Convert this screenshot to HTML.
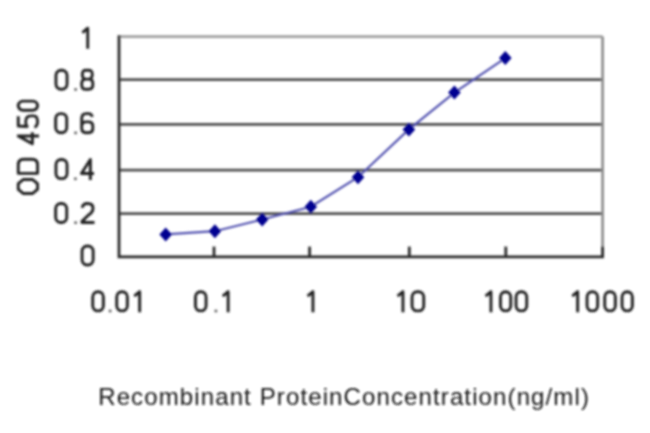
<!DOCTYPE html>
<html><head><meta charset="utf-8">
<style>
html,body{margin:0;padding:0;background:#fff;width:650px;height:433px;overflow:hidden}
svg{display:block}
text{font-family:"Liberation Sans",sans-serif}
</style></head>
<body>
<svg width="650" height="433" viewBox="0 0 650 433">
<defs><filter id="bl" x="0" y="0" width="650" height="433" filterUnits="userSpaceOnUse"><feGaussianBlur stdDeviation="0.9"/></filter></defs>
<rect x="0" y="0" width="650" height="433" fill="#fff"/>
<g filter="url(#bl)">
<g stroke="#505050" stroke-width="2.7" fill="none">
<line x1="119" y1="79.6" x2="602.6" y2="79.6"/>
<line x1="119" y1="124.4" x2="602.6" y2="124.4"/>
<line x1="119" y1="170.1" x2="602.6" y2="170.1"/>
<line x1="119" y1="213.6" x2="602.6" y2="213.6"/>
</g>
<line x1="119" y1="36.6" x2="602.6" y2="36.6" stroke="#a0a0a0" stroke-width="2.7"/>
<line x1="602.6" y1="36.6" x2="602.6" y2="256.8" stroke="#8c8c8c" stroke-width="2.7"/>
<g stroke="#2c2c2c" stroke-width="2.8" fill="none">
<path d="M119,35.2 L119,256.8 L604,256.8"/>
<line x1="214" y1="246.6" x2="214" y2="256.8"/>
<line x1="309.6" y1="246.6" x2="309.6" y2="256.8"/>
<line x1="409.3" y1="246.6" x2="409.3" y2="256.8"/>
<line x1="505.8" y1="246.6" x2="505.8" y2="256.8"/>
<line x1="602.6" y1="246.6" x2="602.6" y2="256.8"/>
</g>
<polyline points="165.7,234.4 214.9,231.2 262.2,219.5 310.8,206.7 358,177.2 408.9,129.4 454.4,92.6 505.3,58.1" fill="none" stroke="#5252b0" stroke-width="2.2"/>
<g fill="#000090">
<path d="M165.7,227.4 L172,234.4 L165.7,241.4 L159.4,234.4Z"/>
<path d="M214.9,224.2 L221.2,231.2 L214.9,238.2 L208.6,231.2Z"/>
<path d="M262.2,212.5 L268.5,219.5 L262.2,226.5 L255.9,219.5Z"/>
<path d="M310.8,199.7 L317.1,206.7 L310.8,213.7 L304.5,206.7Z"/>
<path d="M358,170.2 L364.3,177.2 L358,184.2 L351.7,177.2Z"/>
<path d="M408.9,122.4 L415.2,129.4 L408.9,136.4 L402.6,129.4Z"/>
<path d="M454.4,85.6 L460.7,92.6 L454.4,99.6 L448.1,92.6Z"/>
<path d="M505.3,51.1 L511.6,58.1 L505.3,65.1 L499,58.1Z"/>
</g>
<g fill="none" stroke="#222222" stroke-width="2.9" stroke-linejoin="round">
<path transform="translate(80.9,26.8)" d="M1.45,5.72 L6.85,1.45 V22"/>
<path transform="translate(54.5,68.75)" d="M1.45,6.65 C1.45,3.63 3.63,1.45 6.65,1.45 H7.35 C10.37,1.45 12.55,3.63 12.55,6.65 V15.35 C12.55,18.37 10.37,20.55 7.35,20.55 H6.65 C3.63,20.55 1.45,18.37 1.45,15.35 Z"/>
<rect x="74.3" y="88.15" width="2.6" height="2.6" fill="#606060" stroke="none"/>
<path transform="translate(80.3,68.75)" d="M2.05,5.65 C2.05,2.45 3.05,1.45 5.65,1.45 H8.35 C10.95,1.45 11.95,2.45 11.95,5.65 C11.95,8.84 11.05,10.34 8.35,10.34 H5.65 C2.95,10.34 2.05,8.84 2.05,5.65 Z M5.65,10.34 H8.35 C11.55,10.34 12.55,11.84 12.55,14.54 V16.35 C12.55,19.55 10.95,20.55 8.35,20.55 H5.65 C3.05,20.55 1.45,19.55 1.45,16.35 V14.54 C1.45,11.84 2.45,10.34 5.65,10.34 Z"/>
<path transform="translate(54.2,112.2)" d="M1.45,6.65 C1.45,3.63 3.63,1.45 6.65,1.45 H7.35 C10.37,1.45 12.55,3.63 12.55,6.65 V15.35 C12.55,18.37 10.37,20.55 7.35,20.55 H6.65 C3.63,20.55 1.45,18.37 1.45,15.35 Z"/>
<rect x="74.3" y="131.6" width="2.6" height="2.6" fill="#606060" stroke="none"/>
<path transform="translate(80.3,112.2)" d="M12.05,4.65 C11.35,2.25 10.05,1.45 8.15,1.45 H5.85 C2.85,1.45 1.45,2.65 1.45,6.35 V16.15 C1.45,19.55 3.05,20.55 5.85,20.55 H8.15 C10.95,20.55 12.55,19.55 12.55,16.15 V14.08 C12.55,10.68 10.95,9.68 8.15,9.68 H5.85 C3.05,9.68 1.45,10.68 1.45,14.08"/>
<path transform="translate(54.5,158.1)" d="M1.45,6.65 C1.45,3.63 3.63,1.45 6.65,1.45 H7.35 C10.37,1.45 12.55,3.63 12.55,6.65 V15.35 C12.55,18.37 10.37,20.55 7.35,20.55 H6.65 C3.63,20.55 1.45,18.37 1.45,15.35 Z"/>
<rect x="74.1" y="177.5" width="2.6" height="2.6" fill="#606060" stroke="none"/>
<path transform="translate(80,158.1)" d="M10.35,22 V1.45 L1.45,15.4 H14"/>
<path transform="translate(54.2,202)" d="M1.45,6.65 C1.45,3.63 3.63,1.45 6.65,1.45 H7.35 C10.37,1.45 12.55,3.63 12.55,6.65 V15.35 C12.55,18.37 10.37,20.55 7.35,20.55 H6.65 C3.63,20.55 1.45,18.37 1.45,15.35 Z"/>
<rect x="74.3" y="221.4" width="2.6" height="2.6" fill="#606060" stroke="none"/>
<path transform="translate(80.5,202)" d="M1.75,5.95 C2.05,2.45 3.95,1.45 7,1.45 C10.55,1.45 12.55,2.95 12.55,6.25 C12.55,9.9 10.55,11.44 7.7,13.2 L1.45,19.35 V20.55 H14"/>
<path transform="translate(80.6,244.5)" d="M1.45,6.65 C1.45,3.63 3.63,1.45 6.65,1.45 H7.35 C10.37,1.45 12.55,3.63 12.55,6.65 V15.35 C12.55,18.37 10.37,20.55 7.35,20.55 H6.65 C3.63,20.55 1.45,18.37 1.45,15.35 Z"/>
<path transform="translate(91.3,290.3)" d="M1.45,6.65 C1.45,3.63 3.63,1.45 6.65,1.45 H6.85 C9.87,1.45 12.05,3.63 12.05,6.65 V15.35 C12.05,18.37 9.87,20.55 6.85,20.55 H6.65 C3.63,20.55 1.45,18.37 1.45,15.35 Z"/>
<rect x="108.8" y="309.7" width="2.6" height="2.6" fill="#606060" stroke="none"/>
<path transform="translate(115.3,290.3)" d="M1.45,6.65 C1.45,3.63 3.63,1.45 6.65,1.45 H6.85 C9.87,1.45 12.05,3.63 12.05,6.65 V15.35 C12.05,18.37 9.87,20.55 6.85,20.55 H6.65 C3.63,20.55 1.45,18.37 1.45,15.35 Z"/>
<path transform="translate(132.8,290.3)" d="M1.45,5.72 L6.85,1.45 V22"/>
<path transform="translate(194,290.3)" d="M1.45,6.65 C1.45,3.63 3.63,1.45 6.65,1.45 H6.85 C9.87,1.45 12.05,3.63 12.05,6.65 V15.35 C12.05,18.37 9.87,20.55 6.85,20.55 H6.65 C3.63,20.55 1.45,18.37 1.45,15.35 Z"/>
<rect x="214.6" y="309.7" width="2.6" height="2.6" fill="#606060" stroke="none"/>
<path transform="translate(221.3,290.3)" d="M1.45,5.72 L6.85,1.45 V22"/>
<path transform="translate(306.1,290.3)" d="M1.45,5.72 L6.85,1.45 V22"/>
<path transform="translate(396.1,290.3)" d="M1.45,5.72 L6.85,1.45 V22"/>
<path transform="translate(410.6,290.3)" d="M1.45,6.65 C1.45,3.63 3.63,1.45 6.65,1.45 H7.95 C10.97,1.45 13.15,3.63 13.15,6.65 V15.35 C13.15,18.37 10.97,20.55 7.95,20.55 H6.65 C3.63,20.55 1.45,18.37 1.45,15.35 Z"/>
<path transform="translate(484.1,290.3)" d="M1.45,5.72 L6.85,1.45 V22"/>
<path transform="translate(499,290.3)" d="M1.45,6.65 C1.45,3.63 3.63,1.45 6.65,1.45 H6.55 C9.57,1.45 11.75,3.63 11.75,6.65 V15.35 C11.75,18.37 9.57,20.55 6.55,20.55 H6.65 C3.63,20.55 1.45,18.37 1.45,15.35 Z"/>
<path transform="translate(514.6,290.3)" d="M1.45,6.65 C1.45,3.63 3.63,1.45 6.65,1.45 H6.95 C9.97,1.45 12.15,3.63 12.15,6.65 V15.35 C12.15,18.37 9.97,20.55 6.95,20.55 H6.65 C3.63,20.55 1.45,18.37 1.45,15.35 Z"/>
<path transform="translate(570.8,290.3)" d="M1.45,5.72 L6.85,1.45 V22"/>
<path transform="translate(585.6,290.3)" d="M1.45,6.65 C1.45,3.63 3.63,1.45 6.65,1.45 H6.85 C9.87,1.45 12.05,3.63 12.05,6.65 V15.35 C12.05,18.37 9.87,20.55 6.85,20.55 H6.65 C3.63,20.55 1.45,18.37 1.45,15.35 Z"/>
<path transform="translate(603.3,290.3)" d="M1.45,6.65 C1.45,3.63 3.63,1.45 6.65,1.45 H6.85 C9.87,1.45 12.05,3.63 12.05,6.65 V15.35 C12.05,18.37 9.87,20.55 6.85,20.55 H6.65 C3.63,20.55 1.45,18.37 1.45,15.35 Z"/>
<path transform="translate(620.6,290.3)" d="M1.45,6.65 C1.45,3.63 3.63,1.45 6.65,1.45 H6.55 C9.57,1.45 11.75,3.63 11.75,6.65 V15.35 C11.75,18.37 9.57,20.55 6.55,20.55 H6.65 C3.63,20.55 1.45,18.37 1.45,15.35 Z"/>
<g transform="translate(16.8,195) rotate(-90)">
<path transform="translate(0,0)" d="M1.45,6.65 L5.61,1.45 H11.39 L15.55,6.65 V15.55 L11.39,20.75 H5.61 L1.45,15.55 Z"/>
<path transform="translate(20.2,0)" d="M1.45,1.45 H10.05 C14.05,1.45 15.55,3.95 15.55,6.95 V15.25 C15.55,18.25 14.05,20.75 10.05,20.75 H1.45 Z"/>
<path transform="translate(49.7,0)" d="M9.35,22.2 V1.45 L1.45,15.54 H13"/>
<path transform="translate(66.4,0)" d="M12.25,1.45 H2.65 L2.05,10.32 C2.95,9.32 4.45,8.92 7.1,8.92 C11.25,8.92 12.75,10.82 12.75,14.32 V16.75 C12.75,19.75 10.75,20.75 7.1,20.75 C3.95,20.75 1.95,19.75 1.45,17.55"/>
<path transform="translate(83.3,0)" d="M1.45,6.25 C1.45,3.47 3.47,1.45 6.25,1.45 H5.75 C8.53,1.45 10.55,3.47 10.55,6.25 V15.95 C10.55,18.73 8.53,20.75 5.75,20.75 H6.25 C3.47,20.75 1.45,18.73 1.45,15.95 Z"/>
</g>
</g>
<text transform="translate(98.2,405.2) scale(1.0,1.03)" font-size="24" letter-spacing="1.12" fill="#151515">Recombinant ProteinConcentration(ng/ml)</text>
</g>
</g>
</svg>
</body></html>
